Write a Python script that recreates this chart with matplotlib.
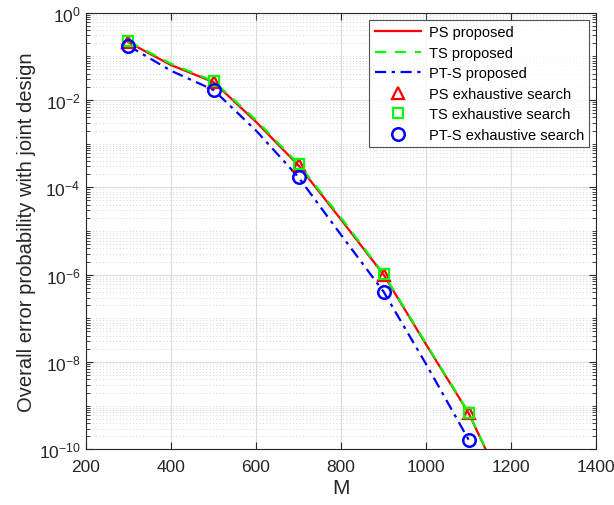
import numpy as np
import matplotlib
matplotlib.use("Agg")
import matplotlib.pyplot as plt
from matplotlib.ticker import FixedLocator, LogLocator, NullFormatter

plt.rcParams['font.family'] = ['Liberation Sans', 'DejaVu Sans']
plt.rcParams['mathtext.fontset'] = 'custom'
plt.rcParams['mathtext.rm'] = 'Liberation Sans'
plt.rcParams['mathtext.it'] = 'Liberation Sans:italic'

# Curves (proposed schemes), log10 of error probability
M_line = [300, 400, 500, 600, 700, 800, 900, 1000, 1100, 1200]
ps_log = [-0.68, -1.20, -1.59, -2.50, -3.50, -4.74, -6.00, -7.60, -9.17, -11.24]
ts_log = [-0.66, -1.17, -1.57, -2.46, -3.47, -4.70, -5.98, -7.58, -9.16, -11.22]
M_pts = [300, 400, 500, 600, 700, 800, 900, 1000, 1100]
pts_log = [-0.76, -1.33, -1.77, -2.70, -3.77, -5.09, -6.39, -8.05, -9.78]

# Exhaustive search results
M_ex = [300, 500, 700, 900, 1100]
ps_ex_log = [-0.68, -1.59, -3.50, -6.00, -9.17]
ts_ex_log = [-0.66, -1.57, -3.47, -5.98, -9.16]
pts_ex_log = [-0.76, -1.77, -3.77, -6.39, -9.78]

fig = plt.figure(figsize=(6.14, 5.06), dpi=100)
ax = fig.add_axes([0.140, 0.110, 0.831, 0.863])

ax.semilogy(M_line, 10.0 ** np.array(ps_log), color='red', lw=1.6, ls='-', label='PS proposed')
ax.semilogy(M_line, 10.0 ** np.array(ts_log), color=(0, 1, 0), lw=1.6, ls=(0, (5, 4)), label='TS proposed')
ax.semilogy(M_pts, 10.0 ** np.array(pts_log), color='blue', lw=1.6, ls=(0, (5, 2.5, 1.5, 2.5)), label='PT-S proposed')

ax.semilogy(M_ex, 10.0 ** np.array(ps_ex_log), ls='none', marker='^', ms=8.5, mfc='none',
            mec='red', mew=1.6, label='PS exhaustive search')
ax.semilogy(M_ex, 10.0 ** np.array(ts_ex_log), ls='none', marker='s', ms=7, mfc='none',
            mec=(0, 1, 0), mew=1.6, label='TS exhaustive search')
ax.semilogy(M_ex, 10.0 ** np.array(pts_ex_log), ls='none', marker='o', ms=9, mfc='none',
            mec='blue', mew=1.8, label='PT-S exhaustive search')

ax.set_xlim(200, 1400)
ax.set_ylim(1e-10, 1)
ax.set_xticks(np.arange(200, 1401, 200))
ax.yaxis.set_major_locator(FixedLocator([10.0 ** k for k in range(-10, 1, 2)]))
ax.set_yticklabels([r'$10^{%d}$' % k for k in range(-10, 1, 2)])
ax.yaxis.set_minor_locator(LogLocator(base=10, subs=np.arange(1, 10), numticks=30))
ax.yaxis.set_minor_formatter(NullFormatter())

ax.tick_params(which='both', direction='in', top=True, right=True, labelsize=12.5, colors='#262626')
ax.tick_params(axis='x', pad=7)
ax.tick_params(axis='y', pad=4)
ax.tick_params(which='major', length=5, width=0.8)
ax.tick_params(which='minor', length=3, width=0.6)
for s in ax.spines.values():
    s.set_color('#262626')
    s.set_linewidth(0.8)

ax.grid(True, which='major', color='#dcdcdc', lw=0.8, ls='-')
ax.grid(True, which='minor', axis='y', color='#c8c8c8', lw=0.6, ls=(0, (1, 3)))
ax.set_axisbelow(True)

ax.set_xlabel('M', fontsize=15, color='#262626', labelpad=3)
ax.set_ylabel('Overall error probability with joint design', fontsize=14.5, color='#262626', labelpad=2)

leg = ax.legend(loc='upper right', fontsize=10.5, frameon=True, fancybox=False,
                edgecolor='#262626', handlelength=3.2, borderaxespad=0.5,
                labelspacing=0.45, handletextpad=0.5, borderpad=0.35)
leg.get_frame().set_linewidth(0.8)

fig.savefig('out.png', dpi=100)
